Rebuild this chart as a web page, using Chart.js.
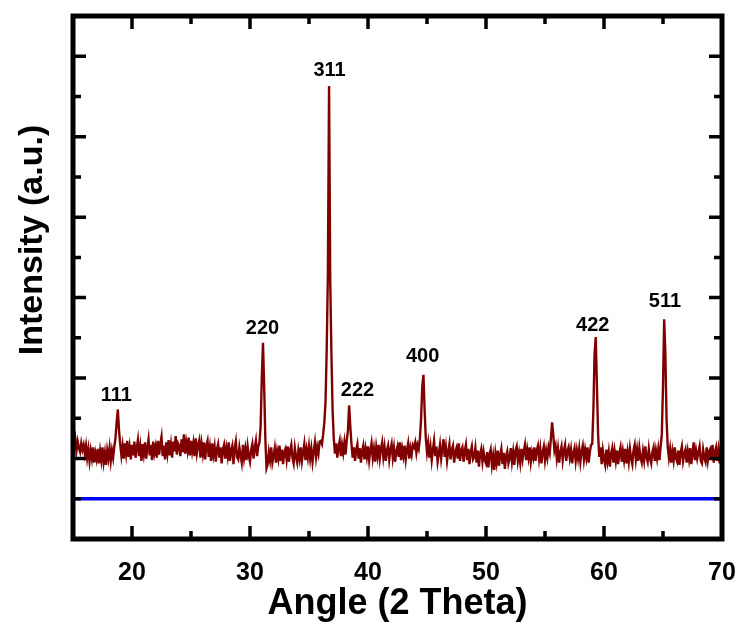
<!DOCTYPE html>
<html>
<head>
<meta charset="utf-8">
<script src="https://cdn.jsdelivr.net/npm/chart.js@4.4.0/dist/chart.umd.min.js"></script>
<style>
  body { margin: 0; background: #fff; }
</style>
</head>
<body>
<canvas id="chart" width="745" height="628"></canvas>
<script>
// XRD scan, 15 - 70 deg, step 0.1 deg
var angleStart = 15;
var angleStep = 0.1;
var intensity = [
    125, 114, 124, 110, 121, 113, 108, 119, 111, 117,
    106, 116, 101, 112, 97, 110, 100, 114, 95, 107,
    99, 112, 94, 109, 98, 114, 96, 107, 92, 110,
    100, 113, 97, 110, 101, 115, 125, 145, 161, 135,
    118, 104, 116, 100, 119, 106, 122, 102, 114, 99,
    117, 104, 121, 101, 113, 123, 103, 115, 97, 118,
    106, 120, 100, 114, 124, 104, 117, 98, 121, 107,
    115, 101, 122, 105, 118, 127, 103, 116, 99, 120,
    107, 123, 104, 117, 101, 121, 109, 128, 105, 119,
    116, 103, 124, 108, 130, 106, 120, 110, 126, 104,
    122, 109, 119, 103, 125, 107, 117, 123, 101, 118,
    106, 120, 99, 116, 122, 102, 114, 97, 119, 105,
    115, 96, 112, 118, 101, 114, 94, 111, 117, 100,
    113, 103, 120, 97, 110, 116, 93, 112, 121, 102,
    99, 114, 104, 95, 117, 101, 112, 98, 115, 103,
    96, 111, 118, 100, 113, 122, 103, 115, 120, 140,
    200, 244, 190, 125, 88, 93, 108, 98, 114, 95,
    103, 113, 95, 109, 100, 116, 97, 111, 93, 108,
    112, 99, 115, 96, 110, 117, 101, 94, 113, 102,
    95, 110, 100, 114, 97, 108, 118, 98, 111, 101,
    115, 100, 112, 96, 109, 120, 102, 114, 106, 121,
    122, 118, 130, 145, 170, 235, 330, 563, 320, 230,
    160, 125, 106, 119, 101, 115, 122, 103, 117, 107,
    120, 105, 123, 135, 166, 140, 118, 101, 114, 97,
    111, 118, 100, 113, 95, 109, 116, 99, 112, 102,
    115, 98, 110, 119, 101, 112, 96, 114, 103, 117,
    100, 112, 120, 102, 114, 97, 110, 116, 99, 111,
    118, 101, 113, 96, 109, 115, 102, 120, 98, 112,
    103, 116, 99, 111, 119, 100, 113, 105, 117, 114,
    120, 107, 117, 112, 125, 150, 190, 204, 160, 125,
    108, 119, 101, 114, 98, 111, 122, 103, 115, 96,
    106, 117, 100, 112, 124, 102, 114, 97, 109, 118,
    99, 111, 116, 95, 108, 113, 100, 119, 97, 110,
    114, 96, 109, 117, 98, 112, 93, 108, 115, 99,
    102, 113, 95, 110, 90, 106, 112, 96, 108, 98,
    94, 108, 89, 105, 111, 92, 103, 86, 106, 95,
    110, 91, 104, 112, 93, 107, 87, 103, 109, 94,
    100, 113, 96, 108, 92, 110, 115, 97, 107, 95,
    112, 99, 109, 117, 98, 111, 101, 114, 96, 108,
    101, 114, 97, 110, 116, 100, 112, 94, 108, 115,
    98, 110, 101, 114, 107, 125, 145, 130, 110, 116,
    100, 112, 95, 108, 115, 98, 110, 117, 97, 109,
    114, 101, 111, 94, 107, 113, 97, 110, 100, 112,
    96, 109, 116, 99, 111, 101, 114, 95, 108, 117,
    118, 160, 230, 251, 190, 130, 102, 114, 93, 110,
    99, 92, 111, 97, 108, 90, 106, 113, 95, 109,
    97, 110, 93, 107, 114, 96, 109, 98, 112, 94,
    108, 96, 112, 100, 93, 110, 117, 99, 111, 97,
    113, 101, 95, 109, 98, 115, 102, 96, 112, 100,
    94, 108, 114, 97, 110, 100, 112, 98, 115, 130,
    190, 273, 230, 150, 115, 101, 112, 95, 109, 98,
    114, 100, 96, 110, 92, 108, 115, 97, 106, 111,
    95, 109, 99, 113, 93, 107, 120, 98, 110, 100,
    108, 115, 97, 94, 111, 101, 96, 114, 98, 109,
    112, 99, 117, 95, 108, 114, 97, 110, 94, 113,
    104
];

var baseAngles = [15, 70];
var baseLevel = [50, 50];

var peakLabels = ["111", "220", "311", "222", "400", "422", "511"];
var peakLabelAngles = [18.67, 31.06, 36.74, 39.11, 44.63, 59.05, 65.16];
var peakLabelLevels = [172, 255, 575, 178, 220, 259, 288];

var xTicks = [20, 30, 40, 50, 60, 70];
var xMinorTicks = [25, 35, 45, 55, 65];
var yTicks = [100, 200, 300, 400, 500, 600];
var yMinorTicks = [50, 150, 250, 350, 450, 550];

var fontFamily = "'Liberation Sans', Arial, Helvetica, sans-serif";

var xrdData = intensity.map(function(v, i) {
    return { x: angleStart + i * angleStep, y: v };
});
var baseData = baseAngles.map(function(a, i) {
    return { x: a, y: baseLevel[i] };
});

var framePlugin = {
    id: "frame",
    afterDraw: function(chart) {
        var ctx = chart.ctx;
        var area = chart.chartArea;
        var xs = chart.scales.x;
        var ys = chart.scales.y;
        ctx.save();
        ctx.strokeStyle = "#000";
        ctx.lineCap = "butt";

        var drawX = function(list, len) {
            list.forEach(function(v) {
                var px = xs.getPixelForValue(v);
                ctx.beginPath();
                ctx.moveTo(px, area.bottom);
                ctx.lineTo(px, area.bottom - len);
                ctx.moveTo(px, area.top);
                ctx.lineTo(px, area.top + len);
                ctx.stroke();
            });
        };
        var drawY = function(list, len) {
            list.forEach(function(v) {
                var py = ys.getPixelForValue(v);
                ctx.beginPath();
                ctx.moveTo(area.left, py);
                ctx.lineTo(area.left + len, py);
                ctx.moveTo(area.right, py);
                ctx.lineTo(area.right - len, py);
                ctx.stroke();
            });
        };
        ctx.lineWidth = 3.5;
        drawX(xTicks, 13);
        drawY(yTicks, 13);
        drawX(xMinorTicks, 8);
        drawY(yMinorTicks, 8);

        ctx.lineWidth = 5;
        ctx.strokeRect(area.left, area.top, area.right - area.left, area.bottom - area.top);

        ctx.fillStyle = "#000";
        ctx.font = "bold 20px " + fontFamily;
        ctx.textAlign = "center";
        ctx.textBaseline = "alphabetic";
        peakLabels.forEach(function(t, i) {
            ctx.fillText(t, xs.getPixelForValue(peakLabelAngles[i]), ys.getPixelForValue(peakLabelLevels[i]));
        });

        ctx.font = "bold 34px " + fontFamily;
        ctx.translate(42, 240);
        ctx.rotate(-Math.PI / 2);
        ctx.fillText("Intensity (a.u.)", 0, 0);
        ctx.restore();
    }
};

var config = {
    type: "line",
    data: {
        datasets: [{
            data: xrdData,
            borderColor: "#800000",
            borderWidth: 2.4,
            pointRadius: 0,
            tension: 0
        }, {
            data: baseData,
            borderColor: "#0000ff",
            borderWidth: 3.5,
            pointRadius: 0
        }]
    },
    options: {
        responsive: false,
        animation: false,
        layout: { padding: { top: 16, right: 23, left: 0, bottom: 0 } },
        plugins: {
            legend: { display: false },
            tooltip: { enabled: false }
        },
        scales: {
            x: {
                type: "linear",
                min: 15,
                max: 70,
                grid: { display: false },
                border: { display: false },
                afterFit: function(scale) {
                    scale.height = 89;
                    scale.paddingLeft = 0;
                    scale.paddingRight = 0;
                },
                afterBuildTicks: function(scale) {
                    scale.ticks = xTicks.map(function(v) { return { value: v }; });
                },
                ticks: {
                    padding: 11,
                    color: "#000",
                    maxRotation: 0,
                    autoSkip: false,
                    font: { family: fontFamily, size: 25, weight: "bold" }
                },
                title: {
                    display: true,
                    text: "Angle (2 Theta)",
                    color: "#000",
                    padding: { top: 0, bottom: 2 },
                    font: { family: fontFamily, size: 36, weight: "bold" }
                }
            },
            y: {
                min: 0,
                max: 650,
                grid: { display: false },
                border: { display: false },
                ticks: { display: false },
                afterFit: function(scale) { scale.width = 73; }
            }
        }
    },
    plugins: [framePlugin]
};

var ctx = document.getElementById("chart").getContext("2d");
var oneChart = new Chart(ctx, config);
</script>
</body>
</html>
